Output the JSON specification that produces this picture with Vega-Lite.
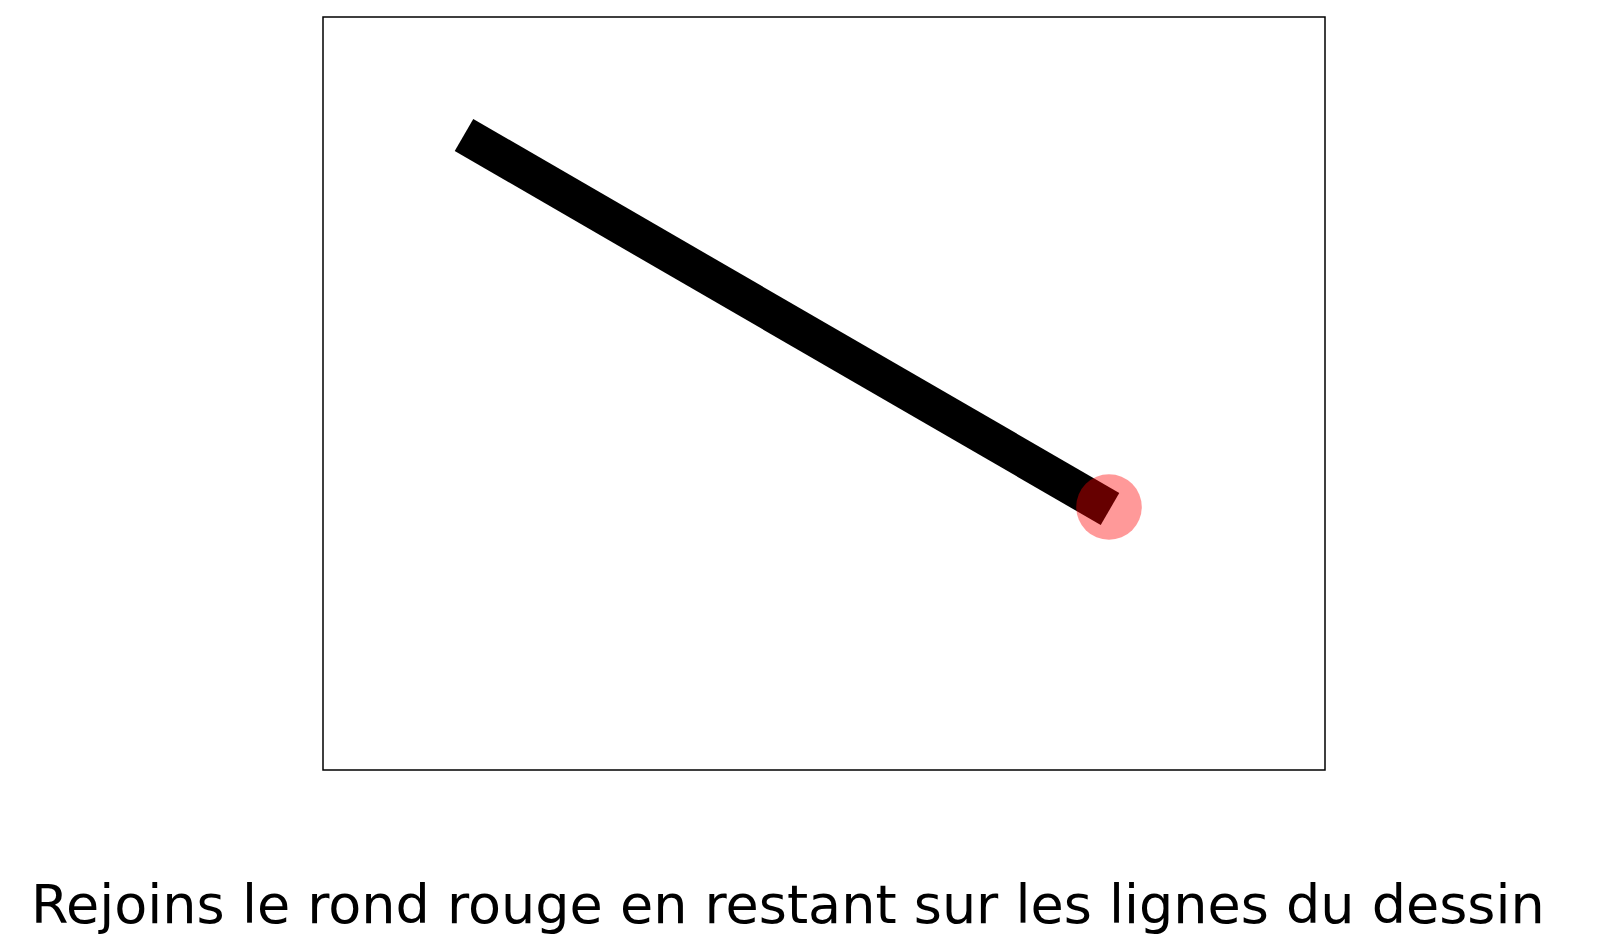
{
  "$schema": "https://vega.github.io/schema/vega-lite/v6.json",
  "width": 1002,
  "height": 753,
  "autosize": {"type": "none"},
  "padding": {"left": 323, "top": 17, "right": 286, "bottom": 172},
  "background": "white",
  "config": {"view": {"stroke": "black", "strokeWidth": 1.5}},
  "datasets": {
    "path": [{"x": 141, "y": 118, "o": 1}, {"x": 787, "y": 492, "o": 2}],
    "target": [{"x": 786, "y": 490}],
    "caption": [{"x": -292, "y": 906, "label": "Rejoins le rond rouge en restant sur les lignes du dessin"}]
  },
  "layer": [
    {
      "data": {"name": "path"},
      "mark": {"type": "line", "color": "black", "strokeWidth": 37, "strokeCap": "butt"},
      "encoding": {
        "x": {"field": "x", "type": "quantitative", "scale": {"domain": [0, 1002]}, "axis": null},
        "y": {"field": "y", "type": "quantitative", "scale": {"domain": [0, 753], "reverse": true}, "axis": null},
        "order": {"field": "o"}
      }
    },
    {
      "data": {"name": "target"},
      "mark": {"type": "circle", "color": "red", "opacity": 0.4, "size": 4300},
      "encoding": {
        "x": {"field": "x", "type": "quantitative", "scale": {"domain": [0, 1002]}, "axis": null},
        "y": {"field": "y", "type": "quantitative", "scale": {"domain": [0, 753], "reverse": true}, "axis": null}
      }
    },
    {
      "data": {"name": "caption"},
      "mark": {"type": "text", "align": "left", "baseline": "alphabetic", "fontSize": 54, "font": "DejaVu Sans", "color": "black", "clip": false},
      "encoding": {
        "x": {"field": "x", "type": "quantitative", "scale": {"domain": [0, 1002]}, "axis": null},
        "y": {"field": "y", "type": "quantitative", "scale": {"domain": [0, 753], "reverse": true}, "axis": null},
        "text": {"field": "label"}
      }
    }
  ]
}
